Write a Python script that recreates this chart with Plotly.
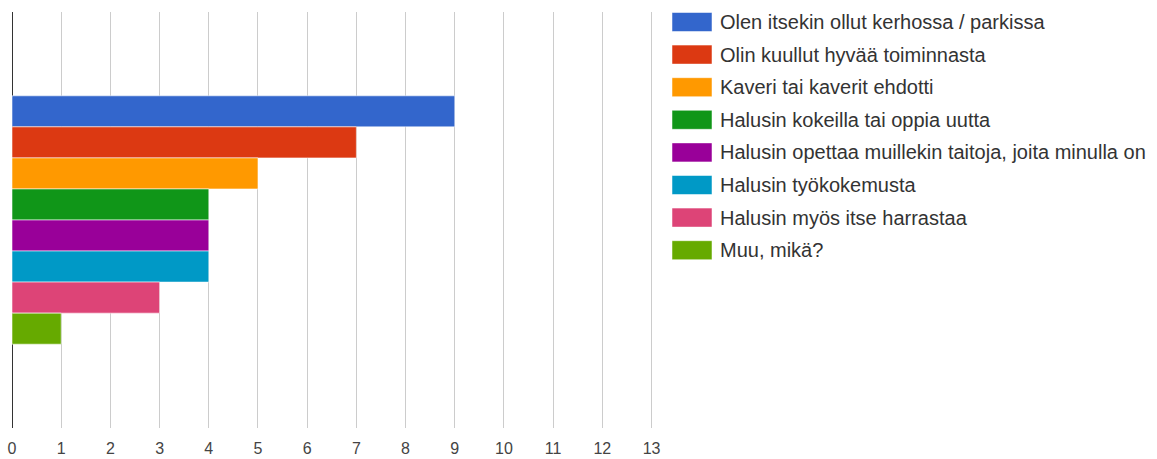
import plotly.graph_objects as go

labels = [
    "Olen itsekin ollut kerhossa / parkissa",
    "Olin kuullut hyvää toiminnasta",
    "Kaveri tai kaverit ehdotti",
    "Halusin kokeilla tai oppia uutta",
    "Halusin opettaa muillekin taitoja, joita minulla on",
    "Halusin työkokemusta",
    "Halusin myös itse harrastaa",
    "Muu, mikä?",
]
values = [9, 7, 5, 4, 4, 4, 3, 1]
colors = ["#3366cc", "#dc3912", "#ff9900", "#109618",
          "#990099", "#0099c6", "#dd4477", "#66aa00"]
x_ticks = list(range(0, 14))

W, H = 1157, 459
L, R, T, B = 12, W - 654, 12, H - 428
pw, ph = W - L - R, H - T - B

fig = go.Figure()
for lab, v, c in zip(labels, values, colors):
    fig.add_trace(go.Bar(
        x=[v], y=[""], name=lab, orientation="h",
        marker=dict(color=c, line=dict(color="rgba(255,255,255,0.55)", width=1)),
        showlegend=False, hoverinfo="x+name",
    ))

shapes, annotations = [], []
for i, (lab, c) in enumerate(zip(labels, colors)):
    cy = 22 + 32.6 * i
    y0 = (H - B - (cy - 9.5)) / ph
    y1 = (H - B - (cy + 9.5)) / ph
    shapes.append(dict(type="rect", xref="paper", yref="paper",
                       x0=(672 - L) / pw, x1=(712 - L) / pw, y0=y1, y1=y0,
                       fillcolor=c, line=dict(color="rgba(255,255,255,0.5)", width=1)))
    annotations.append(dict(xref="paper", yref="paper", x=(718 - L) / pw,
                            y=(H - B - cy) / ph, text=lab, showarrow=False,
                            xanchor="left", yanchor="middle",
                            font=dict(family="Liberation Sans, Arial", size=20, color="#333333")))

fig.update_layout(
    width=W, height=H,
    margin=dict(l=L, r=R, t=T, b=B, pad=0, autoexpand=False),
    paper_bgcolor="white", plot_bgcolor="white",
    barmode="group", bargap=0.403, bargroupgap=0,
    shapes=shapes, annotations=annotations,
    font=dict(family="Liberation Sans, Arial", size=16, color="#444444"),
    xaxis=dict(range=[0, 13.05], tickvals=x_ticks, ticktext=[str(t) for t in x_ticks],
               showgrid=True, gridcolor="#cccccc", gridwidth=1,
               zeroline=True, zerolinecolor="#333333", zerolinewidth=1,
               showline=False, ticks="outside", ticklen=6, tickcolor="rgba(0,0,0,0)",
               tickfont=dict(size=16, color="#444444"), automargin=False),
    yaxis=dict(showticklabels=False, showgrid=False, zeroline=False,
               autorange="reversed", fixedrange=True, automargin=False),
)
fig.write_html("out.html", config={"displayModeBar": False})

with open("out.html", encoding="utf-8") as f:
    html = f.read()
html = html.replace("<head>", "<head><style>html,body{margin:0;padding:0;overflow:hidden;}</style>", 1)
with open("out.html", "w", encoding="utf-8") as f:
    f.write(html)
